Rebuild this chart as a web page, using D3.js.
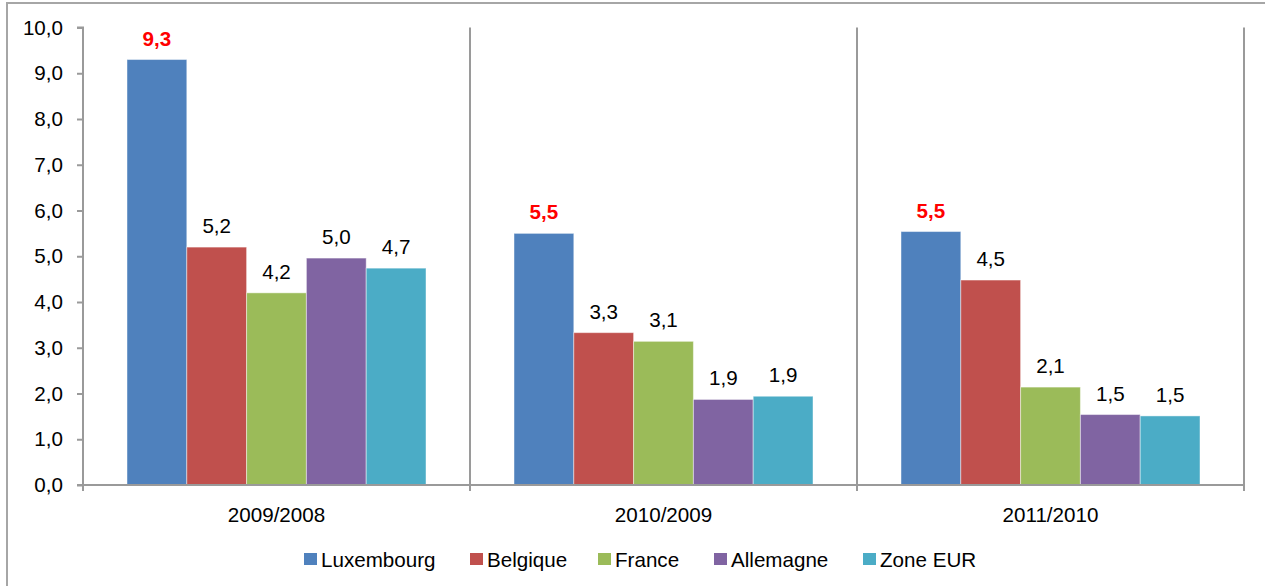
<!DOCTYPE html>
<html><head><meta charset="utf-8">
<script src="https://cdn.jsdelivr.net/npm/d3@7"></script>
<style>body{margin:0;background:#fff}svg{display:block}text{font-family:"Liberation Sans",Arial,sans-serif}</style>
</head><body>
<svg id="c" width="1265" height="586"></svg>
<script>
const categories = ["2009/2008", "2010/2009", "2011/2010"];
const seriesNames = ["Luxembourg", "Belgique", "France", "Allemagne", "Zone EUR"];
const luxembourg = [9.3, 5.5, 5.54];
const belgique = [5.2, 3.33, 4.48];
const france = [4.2, 3.14, 2.14];
const allemagne = [4.96, 1.87, 1.54];
const zoneEur = [4.74, 1.94, 1.51];
const seriesColors = ["#4F81BD", "#C0504D", "#9BBB59", "#8064A2", "#4BACC6"];
const yTicks = [0,1,2,3,4,5,6,7,8,9,10];

const seriesValues = [luxembourg, belgique, france, allemagne, zoneEur];
const fmt = v => d3.format(".1f")(v).replace(".", ",");
const FS = 20.6;

const svg = d3.select("#c");
const pLeft = 83, pRight = 1244, pTop = 27.5, pBottom = 485;

// outer frame
svg.append("rect").attr("x", 7).attr("y", 3).attr("width", 1275).attr("height", 600)
  .attr("fill", "none").attr("stroke", "#a6a6a6").attr("stroke-width", 2);

const x0 = d3.scaleBand().domain(categories).range([pLeft, pRight]);
const y = d3.scaleLinear().domain([0, 10]).range([pBottom, pTop]);

// vertical gridlines at category boundaries
const bounds = categories.map(c => x0(c) + x0.bandwidth());
svg.append("g").selectAll("line").data(bounds).join("line")
  .attr("x1", d => d).attr("x2", d => d).attr("y1", pTop).attr("y2", pBottom + 6)
  .attr("stroke", "#9a9a9a").attr("stroke-width", 2);

// bars
const data = [];
categories.forEach((c, i) => seriesNames.forEach((s, j) => data.push({c, s, j, v: seriesValues[j][i]})));
const bw = 59.8;
const gap = (x0.bandwidth() - bw * 5) / 2;
const xs = d3.scaleBand().domain(seriesNames).range([gap, gap + bw * 5]);
svg.append("g").selectAll("rect").data(data).join("rect")
  .attr("x", d => x0(d.c) + xs(d.s))
  .attr("y", d => y(d.v))
  .attr("width", xs.bandwidth())
  .attr("height", d => pBottom - y(d.v))
  .attr("fill", d => seriesColors[d.j])
  .attr("stroke", "rgba(255,255,255,0.45)").attr("stroke-width", 1);

// labels
svg.append("g").selectAll("text").data(data).join("text")
  .attr("x", d => x0(d.c) + xs(d.s) + xs.bandwidth() / 2)
  .attr("y", d => y(d.v) - 14)
  .attr("text-anchor", "middle")
  .attr("font-size", FS)
  .attr("font-weight", d => d.j === 0 ? "bold" : "normal")
  .attr("fill", d => d.j === 0 ? "#ff0000" : "#000")
  .text(d => fmt(d.v));

// y axis
const yAxis = d3.axisLeft(y).tickValues(yTicks).tickSize(6).tickPadding(14).tickFormat(fmt);
const gy = svg.append("g").attr("transform", `translate(${pLeft},0)`).call(yAxis);
gy.select(".domain").attr("stroke", "#9a9a9a").attr("stroke-width", 2).attr("d", `M-6,${pTop}H0V${pBottom}H-6`);
gy.selectAll(".tick line").attr("stroke", "#9a9a9a").attr("stroke-width", 2);
gy.selectAll(".tick text").attr("font-size", FS).attr("fill", "#000")
  .attr("font-family", '"Liberation Sans",Arial,sans-serif');

// x axis line
svg.append("line").attr("x1", pLeft - 6).attr("x2", pRight).attr("y1", pBottom).attr("y2", pBottom)
  .attr("stroke", "#9a9a9a").attr("stroke-width", 2);
svg.append("line").attr("x1", pLeft).attr("x2", pLeft).attr("y1", pBottom).attr("y2", pBottom + 6)
  .attr("stroke", "#9a9a9a").attr("stroke-width", 2);

// category labels
svg.append("g").selectAll("text").data(categories).join("text")
  .attr("x", d => x0(d) + x0.bandwidth() / 2).attr("y", 522)
  .attr("text-anchor", "middle").attr("font-size", FS).attr("fill", "#000")
  .text(d => d);

// legend
const legX = [304, 470, 598, 714, 863];
const lg = svg.append("g").selectAll("g").data(seriesNames).join("g")
  .attr("transform", (d, i) => `translate(${legX[i]},0)`);
lg.append("rect").attr("x", 0).attr("y", 553).attr("width", 13).attr("height", 12)
  .attr("fill", (d, i) => seriesColors[i]);
lg.append("text").attr("x", 17).attr("y", 567).attr("font-size", FS).attr("fill", "#000").text(d => d);
</script>
</body></html>
